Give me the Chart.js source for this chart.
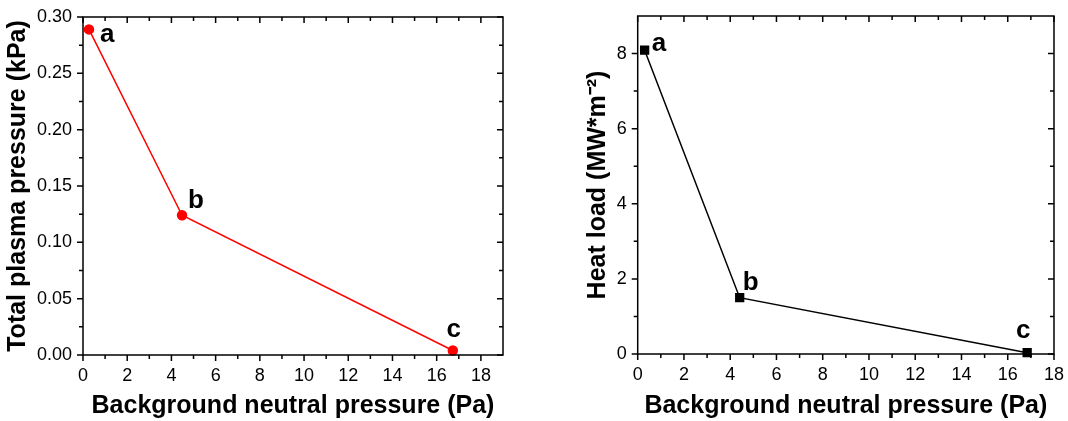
<!DOCTYPE html>
<html>
<head>
<meta charset="utf-8">
<script src="https://cdn.jsdelivr.net/npm/chart.js@4.4.1/dist/chart.umd.min.js"></script>
<style>
  html, body { margin: 0; padding: 0; background: #fff; }
  .wrap { position: absolute; top: 0; width: 534px; height: 421px; }
  #left { left: 0; }
  #right { left: 534px; }
</style>
</head>
<body>
<div class="wrap" id="left"><canvas id="plasma"></canvas></div>
<div class="wrap" id="right"><canvas id="heat"></canvas></div>
<script>
const pointNames = ["a", "b", "c"];

// left panel
const plasmaX = [0.27, 4.48, 16.73];
const plasmaPressure = [0.289, 0.124, 0.004];
const plasmaXTicks = [0, 2, 4, 6, 8, 10, 12, 14, 16, 18];
const plasmaYTicks = [0, 0.05, 0.10, 0.15, 0.20, 0.25, 0.30];

// right panel
const heatX = [0.30, 4.41, 16.84];
const heatLoad = [8.09, 1.50, 0.035];
const heatXTicks = [0, 2, 4, 6, 8, 10, 12, 14, 16, 18];
const heatYTicks = [0, 2, 4, 6, 8];

const FONT = "'Liberation Sans', Arial, Helvetica, sans-serif";

// draws the box, major/minor ticks (outside bottom/left, inside top/right)
const frameTicks = {
  id: "frameTicks",
  afterDraw(chart, args, opts) {
    const { ctx, chartArea: a, scales: { x, y } } = chart;
    const marks = (ticks) => {
      const out = [];
      ticks.forEach((v, i) => {
        out.push([v, 6]);
        if (i < ticks.length - 1) out.push([(v + ticks[i + 1]) / 2, 4]);
      });
      return out;
    };
    ctx.save();
    ctx.strokeStyle = "#000";
    ctx.lineWidth = 1.5;
    ctx.strokeRect(a.left, a.top, a.right - a.left, a.bottom - a.top);
    ctx.beginPath();
    marks(opts.xTicks).forEach(([v, len]) => {
      const px = x.getPixelForValue(v);
      ctx.moveTo(px, a.bottom); ctx.lineTo(px, a.bottom + len);
      ctx.moveTo(px, a.top); ctx.lineTo(px, a.top + len);
    });
    marks(opts.yTicks).forEach(([v, len]) => {
      const py = y.getPixelForValue(v);
      ctx.moveTo(a.left - len, py); ctx.lineTo(a.left, py);
      ctx.moveTo(a.right - len, py); ctx.lineTo(a.right, py);
    });
    ctx.stroke();
    ctx.restore();
  }
};

// letters next to the points
const pointLetters = {
  id: "pointLetters",
  afterDatasetsDraw(chart, args, opts) {
    const { ctx } = chart;
    const meta = chart.getDatasetMeta(0);
    ctx.save();
    ctx.fillStyle = "#000";
    ctx.font = "bold 26px " + FONT;
    ctx.textBaseline = "alphabetic";
    meta.data.forEach((pt, i) => {
      const [dx, dy, align] = opts.offsets[i];
      ctx.textAlign = align;
      ctx.fillText(pointNames[i], pt.x + dx, pt.y + dy);
    });
    ctx.restore();
  }
};

function makeChart(canvas, cfg) {
  return new Chart(canvas, {
    type: "line",
    data: {
      datasets: [{
        data: cfg.xs.map((v, i) => ({ x: v, y: cfg.ys[i] })),
        borderColor: cfg.color,
        backgroundColor: cfg.color,
        borderWidth: 1.5,
        pointStyle: cfg.pointStyle,
        pointRadius: cfg.pointRadius,
        pointHoverRadius: cfg.pointRadius,
        tension: 0,
        clip: false
      }]
    },
    options: {
      responsive: true,
      maintainAspectRatio: false,
      animation: false,
      events: [],
      layout: { padding: cfg.padding },
      plugins: {
        legend: { display: false },
        tooltip: { enabled: false },
        frameTicks: { xTicks: cfg.xTicks, yTicks: cfg.yTicks },
        pointLetters: { offsets: cfg.offsets }
      },
      scales: {
        x: {
          type: "linear",
          min: 0,
          max: cfg.xMax,
          afterBuildTicks: (s) => { s.ticks = cfg.xTicks.map(v => ({ value: v })); },
          afterFit: (s) => { s.height = cfg.xAxisHeight; },
          grid: { display: false, drawTicks: true, tickLength: 6 },
          border: { display: false },
          ticks: {
            padding: 4,
            color: "#000",
            maxRotation: 0,
            autoSkip: false,
            font: { family: FONT, size: 18 },
            callback: (v) => String(v)
          },
          title: {
            display: true,
            text: "Background neutral pressure (Pa)",
            color: "#000",
            font: { family: FONT, size: 25, weight: "bold" },
            padding: { top: 0, bottom: 0 }
          }
        },
        y: {
          type: "linear",
          min: 0,
          max: cfg.yMax,
          afterBuildTicks: (s) => { s.ticks = cfg.yTicks.map(v => ({ value: v })); },
          afterFit: (s) => { s.width = cfg.yAxisWidth; },
          grid: { display: false, drawTicks: true, tickLength: 6 },
          border: { display: false },
          ticks: {
            padding: 5,
            color: "#000",
            autoSkip: false,
            font: { family: FONT, size: 18 },
            callback: cfg.yFormat
          },
          title: {
            display: true,
            text: cfg.yTitle,
            color: "#000",
            font: { family: FONT, size: 25, weight: "bold" },
            padding: { top: cfg.yTitlePad, bottom: 0 }
          }
        }
      }
    },
    plugins: [frameTicks, pointLetters]
  });
}

makeChart(document.getElementById("plasma"), {
  xs: plasmaX,
  ys: plasmaPressure,
  xTicks: plasmaXTicks,
  yTicks: plasmaYTicks,
  xMax: 19,
  yMax: 0.30,
  color: "#ff0000",
  pointStyle: "circle",
  pointRadius: 4.5,
  padding: { top: 17, right: 31, left: 0, bottom: 0 },
  xAxisHeight: 66,
  yAxisWidth: 83,
  yTitle: "Total plasma pressure (kPa)",
  yTitlePad: 3,
  yFormat: (v) => Number(v).toFixed(2),
  offsets: [[11, 13, "left"], [6, -7, "left"], [1, -13, "center"]]
});

makeChart(document.getElementById("heat"), {
  xs: heatX,
  ys: heatLoad,
  xTicks: heatXTicks,
  yTicks: heatYTicks,
  xMax: 18,
  yMax: 9,
  color: "#000000",
  pointStyle: "rect",
  pointRadius: 5.5,
  padding: { top: 16, right: 10.7, left: 0, bottom: 0 },
  xAxisHeight: 67,
  yAxisWidth: 103.7,
  yTitle: "Heat load (MW*m\u207B\u00B2)",
  yTitlePad: 49,
  yFormat: (v) => String(v),
  offsets: [[7, 1, "left"], [3, -8, "left"], [-4, -15, "center"]]
});
</script>
</body>
</html>
